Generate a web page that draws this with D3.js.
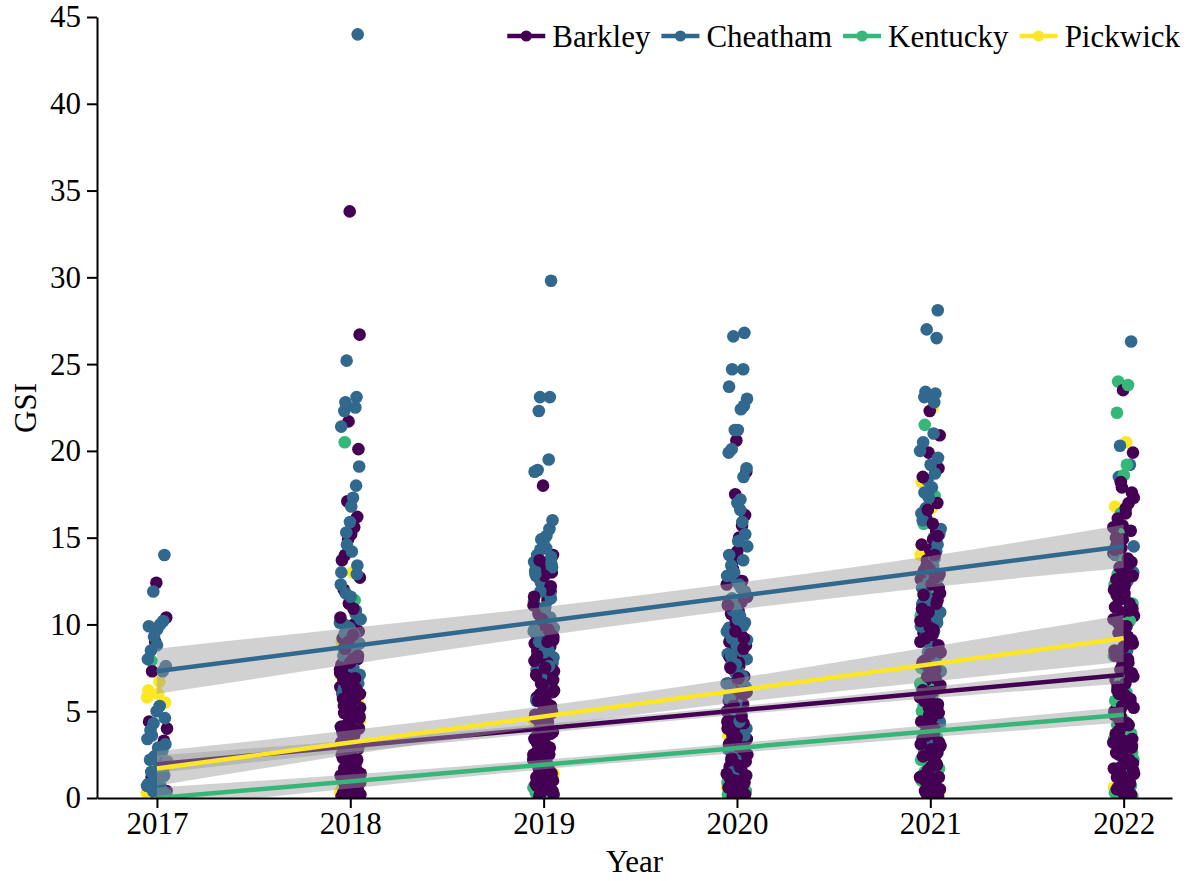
<!DOCTYPE html>
<html>
<head>
<meta charset="utf-8">
<script src="https://cdn.jsdelivr.net/npm/d3@7"></script>
<style>
  body { margin: 0; background: #fff; }
  text { font-family: "Liberation Serif", "Times New Roman", serif; fill: #000; }
</style>
</head>
<body>
<svg id="chart" width="1187" height="881"></svg>
<script>
const years = [2017, 2018, 2019, 2020, 2021, 2022];
const lakes = ["Barkley", "Cheatham", "Kentucky", "Pickwick"];
const lakeColors = ["#440154", "#31688E", "#35B779", "#FDE725"];
const yTicks = [0, 5, 10, 15, 20, 25, 30, 35, 40, 45];

// GSI values per lake, one inner array per year (2017..2022)
const barkleyGSI = [
  [12.4, 10.4, 9.0, 7.3, 4.4, 4.0, 3.3, 2.6, 2.0, 1.6, 1.2, 0.8, 0.4, 0.1, 1.4, 0.6],
  [33.8, 26.7, 21.7, 20.1, 17.1, 16.2, 15.6, 15.2, 14.9, 14.0, 13.7, 12.7, 12.0, 11.2, 10.0, 9.6, 9.2, 8.8, 8.4, 8.0, 7.7, 7.4, 7.0, 6.7, 6.4, 6.1, 5.8, 5.5, 5.2, 4.9, 4.6, 4.3, 4.0, 3.7, 3.4, 3.1, 2.8, 2.5, 2.2, 1.9, 1.6, 1.3, 1.0, 0.7, 0.4, 0.2, 3.6, 2.4, 1.5, 0.9, 0.3, 5.0, 6.2, 7.2,
   9.4, 8.6, 8.2, 7.8, 7.5, 6.9, 6.5, 6.0, 5.6, 5.3, 4.8, 4.4, 4.1, 3.8, 3.3, 3.0, 2.6, 2.3, 2.0, 1.7, 1.4, 1.1, 0.8, 0.5, 0.3, 0.1, 1.8, 2.9, 4.7, 5.9, 6.8, 8.1, 9.0, 10.4, 10.9, 0.6, 1.2, 2.1, 3.9,
   0.2, 0.5, 0.9, 1.3, 1.7, 2.2, 2.7, 3.2, 3.6, 4.2, 4.6, 5.1, 5.7, 6.3, 6.9, 7.4, 8.0, 8.7],
  [18.0, 14.0, 13.3, 13.0, 12.5, 11.9, 11.4, 10.8, 10.4, 9.9, 9.5, 9.1, 8.7, 8.3, 8.0, 7.6, 7.3, 7.0, 6.7, 6.4, 6.1, 5.8, 5.5, 5.2, 4.9, 4.6, 4.3, 4.0, 3.7, 3.4, 3.1, 2.8, 2.5, 2.2, 1.9, 1.6, 1.3, 1.0, 0.7, 0.4, 6.9, 5.0, 3.5, 2.0, 1.2, 12.2, 8.9,
   13.7, 12.8, 12.0, 11.1, 10.6, 10.1, 9.7, 9.3, 8.5, 8.1, 7.8, 7.4, 7.1, 6.6, 6.2, 5.9, 5.6, 5.3, 5.0, 4.7, 4.4, 4.1, 3.8, 3.5, 3.2, 2.9, 2.6, 2.3, 2.0, 1.7, 1.4, 1.1, 0.8, 0.5, 0.3, 0.2, 1.5, 2.7, 3.9, 6.5, 7.9, 9.0,
   0.1, 0.4, 0.8, 1.2, 1.6, 2.1, 2.5, 3.0, 3.4, 3.9, 4.3, 4.8, 5.4, 6.0, 6.8, 7.5, 8.2, 9.5, 10.3, 11.6],
  [20.6, 18.8, 17.5, 16.3, 15.7, 15.0, 13.8, 13.2, 12.8, 12.3, 11.9, 11.3, 10.8, 10.3, 9.7, 9.0, 8.4, 7.6, 7.0, 6.6, 6.2, 5.8, 5.4, 5.0, 4.6, 4.2, 3.8, 3.4, 3.0, 2.7, 2.4, 2.1, 1.8, 1.5, 1.2, 0.9, 0.6, 0.3, 10.1, 6.0, 4.4, 1.0,
   14.2, 12.5, 11.6, 10.6, 10.0, 9.4, 8.8, 8.1, 7.3, 6.8, 6.4, 5.6, 5.2, 4.8, 4.3, 4.0, 3.6, 3.2, 2.8, 2.5, 2.2, 1.9, 1.6, 1.3, 1.1, 0.8, 0.5, 0.2, 3.1, 5.9, 7.8, 9.2, 11.1,
   0.1, 0.4, 0.7, 1.0, 1.4, 1.8, 2.3, 2.9, 3.5, 4.1, 4.7, 5.3, 6.1, 6.9, 7.5, 8.6, 9.6],
  [22.3, 20.9, 19.9, 19.0, 17.6, 17.0, 16.1, 15.4, 14.9, 14.3, 13.7, 13.1, 12.6, 12.1, 11.5, 11.0, 10.4, 9.9, 9.5, 9.0, 8.6, 8.1, 7.6, 7.2, 6.8, 6.3, 5.8, 5.4, 5.0, 4.6, 4.2, 3.8, 3.4, 3.0, 2.6, 2.2, 1.8, 1.4, 1.0, 0.6, 0.3, 11.8, 7.9, 5.2, 2.9, 1.2,
   18.5, 16.6, 15.8, 15.1, 14.6, 14.0, 13.4, 12.9, 12.3, 11.7, 11.2, 10.7, 10.2, 9.7, 9.2, 8.8, 8.3, 7.8, 7.4, 7.0, 6.5, 6.1, 5.6, 5.2, 4.8, 4.4, 4.0, 3.6, 3.2, 2.8, 2.4, 2.0, 1.6, 1.2, 0.8, 0.4, 0.1, 9.8, 10.9, 12.7,
   0.2, 0.5, 0.9, 1.3, 1.9, 2.5, 3.1, 3.7, 4.3, 4.9, 5.5, 6.2, 6.9, 7.6, 8.4, 9.4, 10.5, 11.4, 13.2],
  [23.5, 19.9, 17.9, 17.6, 17.0, 16.4, 15.7, 15.2, 14.6, 14.1, 13.6, 13.0, 12.5, 11.9, 11.4, 11.0, 10.5, 10.1, 9.7, 9.3, 8.9, 8.4, 8.0, 7.6, 7.2, 6.8, 6.4, 5.9, 5.5, 5.0, 4.5, 4.1, 3.6, 3.2, 2.8, 2.4, 2.0, 1.6, 1.2, 0.8, 0.4, 12.0, 9.0, 6.0, 3.0, 1.0, 15.0, 10.8,
   18.2, 17.3, 16.7, 16.1, 15.4, 14.9, 14.3, 13.8, 13.3, 12.8, 12.2, 11.7, 11.2, 10.7, 10.3, 9.9, 9.5, 9.1, 8.7, 8.2, 7.8, 7.4, 7.0, 6.6, 6.2, 5.7, 5.3, 4.8, 4.3, 3.9, 3.4, 3.0, 2.6, 2.2, 1.8, 1.4, 1.0, 0.6, 0.2, 13.1, 11.0, 8.0, 5.0, 2.0,
   0.1, 0.5, 0.9, 1.3, 1.7, 2.1, 2.5, 2.9, 3.3, 3.7, 4.2, 4.7, 5.2, 5.8, 6.4, 7.1, 7.7, 8.5, 9.3, 10.0, 10.9, 11.8, 12.6, 13.5, 14.4, 15.6]
];
const cheathamGSI = [
  [14.0, 11.9, 10.2, 10.0, 9.7, 9.3, 8.5, 8.0, 7.6, 7.3, 5.3, 5.0, 4.3, 3.9, 3.4, 3.1, 2.7, 2.4, 2.1, 1.8, 1.5, 1.3, 1.0, 0.8, 0.6, 0.4, 0.2, 2.9, 2.2, 1.6, 1.1, 0.7, 0.3, 3.6, 4.6, 8.8, 9.9],
  [44.0, 25.2, 23.1, 22.8, 22.5, 22.3, 21.4, 19.1, 18.0, 17.3, 15.9, 14.6, 14.2, 12.9, 12.3, 11.8, 11.6, 10.6, 10.3, 10.0, 9.8, 9.4, 8.9, 8.2, 7.9, 7.5, 6.6, 6.0, 5.4, 4.8, 4.4, 4.1, 3.5, 2.9,
   10.8, 10.1, 9.5, 9.1, 8.5, 7.1, 6.3, 5.7, 5.1, 4.6, 3.8, 3.2, 2.6, 13.4, 13.0, 15.3, 16.8],
  [29.8, 23.1, 23.1, 22.3, 19.5, 18.9, 18.8, 16.0, 15.5, 15.1, 14.7, 14.3, 14.0, 13.6, 13.3, 12.8, 12.4, 12.0, 11.5, 11.1, 10.7, 10.3, 10.0, 9.6, 9.3, 8.9, 8.5, 8.1, 7.6, 7.2, 6.7, 6.2, 5.6,
   14.9, 14.4, 13.9, 13.1, 12.6, 12.2, 11.7, 11.3, 10.9, 10.5, 10.1, 9.8, 9.1, 8.7, 8.3, 7.8, 7.4, 6.9, 6.4,
   13.5, 12.9, 11.9, 11.0, 10.4, 9.7, 9.0, 8.4, 7.6],
  [26.8, 26.6, 24.7, 24.7, 23.7, 23.0, 22.6, 22.4, 21.2, 21.2, 20.1, 19.9, 19.0, 18.5, 17.2, 17.0, 15.9, 14.5, 13.4, 12.6, 12.1, 11.7, 11.4, 11.0, 10.5, 10.1, 9.8, 9.4, 9.0, 8.7, 8.3, 7.9, 7.4, 7.0, 6.6, 6.2, 5.5, 4.8, 4.0, 3.2, 2.3,
   16.6, 15.2, 14.0, 13.0, 12.3, 11.9, 11.2, 10.8, 10.3, 9.9, 9.6, 9.2, 8.8, 8.5, 8.0, 7.6, 7.2, 6.8, 6.4, 5.9, 5.1, 4.4, 3.6, 2.8, 1.5,
   14.8, 13.7, 12.8, 11.5, 10.7, 10.0, 9.1, 8.2, 7.7, 6.9, 6.3, 5.7],
  [28.1, 27.0, 26.5, 23.4, 23.3, 23.1, 22.8, 20.5, 20.0, 19.6, 18.7, 17.9, 17.3, 16.7, 16.0, 15.5, 14.6, 13.8, 13.0, 12.4, 11.8, 11.2, 10.7, 10.1, 9.6, 9.0, 8.4, 7.7, 6.4, 4.4, 1.9,
   21.0, 19.2, 18.3, 17.6, 16.4, 15.2, 14.2, 13.4, 12.7, 12.1, 11.5, 11.0, 10.4, 9.9, 9.3, 8.7, 8.1, 7.3, 5.6, 3.1],
  [26.3, 20.3, 19.2, 18.5, 15.5, 14.5, 13.5, 12.5, 11.6, 9.7, 0.5, 14.0, 13.0, 10.5, 8.5, 6.0, 2.5]
];
const kentuckyGSI = [
  [7.9, 1.1, 0.3],
  [20.5, 11.4, 8.6, 1.1, 0.5, 0.2],
  [2.8, 2.6, 0.7, 0.5, 0.3, 0.2, 0.1, 1.0, 0.4, 0.6, 0.3, 2.7, 0.2, 0.5, 0.4],
  [1.6, 1.2, 1.0, 0.8, 0.6, 0.5, 0.3, 0.2, 0.4, 0.7, 1.4, 0.1, 0.2, 0.5, 0.9, 0.3],
  [21.5, 17.4, 15.8, 15.0, 12.9, 11.6, 7.5, 6.9, 6.4, 5.7, 5.0, 4.2, 3.5, 3.0, 2.5, 2.0, 1.5, 1.0, 0.5, 0.2,
   6.0, 4.6, 3.8, 2.7, 2.2, 1.7, 1.2, 0.7, 0.3, 7.2, 5.3, 10.5, 0.4, 0.9, 1.4, 1.9, 3.3, 4.9, 6.6],
  [24.0, 23.8, 22.2, 19.2, 18.6, 16.4, 12.9, 12.3, 11.2, 7.1, 6.1, 5.4, 4.8, 4.2, 3.4, 2.6, 1.9, 1.3, 0.7, 0.3,
   15.2, 13.7, 10.2, 8.2, 5.8, 4.5, 3.0, 2.2, 1.6, 1.0, 0.5, 0.1, 0.4, 1.2, 2.4, 3.7, 5.6, 6.7, 9.4]
];
const pickwickGSI = [
  [6.7, 6.2, 6.0, 5.8, 5.5, 2.8, 2.2, 1.9, 0.9, 0.5, 0.3, 0.1, 0.2, 0.6, 1.2, 1.6, 0.4],
  [13.0, 9.0, 8.6, 7.1, 6.3, 4.5, 3.2, 2.7, 0.8, 0.3, 5.5, 1.5],
  [11.6, 9.7, 7.8, 4.5, 2.9, 1.4],
  [6.1, 3.6, 2.0, 0.6],
  [22.5, 18.2, 16.7, 14.0, 8.6, 6.3, 0.6, 0.3],
  [20.5, 16.8, 9.8, 0.6]
];

// fitted line value at 2017 and 2022
const barkleyFit = [1.95, 7.1];
const cheathamFit = [7.3, 14.5];
const kentuckyFit = [0.0, 4.8];
const pickwickFit = [1.7, 9.2];

// confidence band, lower and upper, one value per year
const barkleyLo = [1.45, 2.65, 3.75, 4.8, 5.75, 6.6];
const barkleyHi = [2.45, 3.3, 4.27, 5.28, 6.4, 7.6];
const cheathamLo = [6.0, 7.7, 9.35, 10.85, 12.15, 13.25];
const cheathamHi = [8.6, 9.8, 11.0, 12.4, 13.95, 15.75];
const kentuckyLo = [-0.6, 0.55, 1.65, 2.6, 3.5, 4.35];
const kentuckyHi = [0.6, 1.35, 2.2, 3.15, 4.2, 5.25];
const pickwickLo = [0.7, 2.5, 4.1, 5.5, 6.7, 7.85];
const pickwickHi = [2.7, 3.9, 5.3, 6.9, 8.7, 10.55];

const gsiByLake = [barkleyGSI, cheathamGSI, kentuckyGSI, pickwickGSI];
const fitByLake = [barkleyFit, cheathamFit, kentuckyFit, pickwickFit];
const loByLake = [barkleyLo, cheathamLo, kentuckyLo, pickwickLo];
const hiByLake = [barkleyHi, cheathamHi, kentuckyHi, pickwickHi];

const svg = d3.select("#chart");
const plotLeft = 97, plotRight = 1172, plotTop = 17, plotBottom = 798;

const x = d3.scaleLinear().domain([2016.69, 2022.25]).range([plotLeft, plotRight]);
const y = d3.scaleLinear().domain([0, 45]).range([plotBottom, plotTop]);
const color = d3.scaleOrdinal().domain(lakes).range(lakeColors);

svg.append("clipPath").attr("id", "panel")
  .append("rect").attr("x", plotLeft).attr("y", plotTop)
  .attr("width", plotRight - plotLeft).attr("height", plotBottom - plotTop);

// build points: interleave lakes within each year so colours mix like the original
const drawOrder = [3, 2, 1, 0];
const points = [];
years.forEach((yr, yi) => {
  const maxLen = d3.max(gsiByLake, g => g[yi].length);
  let j = 0;
  for (let k = 0; k < maxLen; k++) {
    drawOrder.forEach(li => {
      const v = gsiByLake[li][yi][k];
      if (v === undefined) return;
      // deterministic jitter spread (golden ratio sequence)
      const off = (((j + 1) * 0.618034) % 1 - 0.5) * 2 * 10.5;
      points.push({ year: yr, lake: lakes[li], gsi: v, off: off });
      j++;
    });
  }
});

const panel = svg.append("g").attr("clip-path", "url(#panel)");

panel.selectAll("circle.pt")
  .data(points)
  .enter().append("circle")
  .attr("class", "pt")
  .attr("cx", d => x(d.year) + d.off)
  .attr("cy", d => y(d.gsi))
  .attr("r", 6.3)
  .attr("fill", d => color(d.lake));

// smooth bands + lines, per lake in ggplot group order
lakes.forEach((lake, li) => {
  const band = years.map((yr, i) => ({ yr: yr, lo: loByLake[li][i], hi: hiByLake[li][i] }));
  panel.append("path")
    .datum(band)
    .attr("fill", "#999999")
    .attr("fill-opacity", 0.45)
    .attr("d", d3.area().curve(d3.curveMonotoneX)
      .x(d => x(d.yr)).y0(d => y(d.lo)).y1(d => y(d.hi)));

  panel.append("line")
    .attr("x1", x(years[0])).attr("y1", y(fitByLake[li][0]))
    .attr("x2", x(years[years.length - 1])).attr("y2", y(fitByLake[li][1]))
    .attr("stroke", color(lake))
    .attr("stroke-width", 4.5);
});

// axes
const yAxis = svg.append("g")
  .attr("transform", `translate(${plotLeft},0)`)
  .call(d3.axisLeft(y).tickValues(yTicks).tickSize(10).tickPadding(6).tickSizeOuter(0));
const xAxis = svg.append("g")
  .attr("transform", `translate(0,${plotBottom})`)
  .call(d3.axisBottom(x).tickValues(years).tickFormat(d3.format("d")).tickSize(10).tickPadding(4).tickSizeOuter(0));

[yAxis, xAxis].forEach(a => {
  a.selectAll("path.domain").attr("stroke", "#000").attr("stroke-width", 2);
  a.selectAll(".tick line").attr("stroke", "#000").attr("stroke-width", 2);
  a.selectAll(".tick text").attr("font-size", 31).attr("font-family", null).attr("fill", "#000");
});

svg.append("text")
  .attr("x", (plotLeft + plotRight) / 2)
  .attr("y", 872)
  .attr("text-anchor", "middle")
  .attr("font-size", 31)
  .text("Year");

svg.append("text")
  .attr("transform", `translate(36,408) rotate(-90)`)
  .attr("text-anchor", "middle")
  .attr("font-size", 31)
  .text("GSI");

// legend, right-aligned to end near the panel's right edge
const legend = svg.append("g");
let lx = 0;
lakes.forEach((lake, li) => {
  const g = legend.append("g").attr("transform", `translate(${lx},0)`);
  g.append("line").attr("x1", 0).attr("x2", 38).attr("y1", 0).attr("y2", 0)
    .attr("stroke", lakeColors[li]).attr("stroke-width", 4.5);
  g.append("circle").attr("cx", 19).attr("cy", 0).attr("r", 5.6).attr("fill", lakeColors[li]);
  const t = g.append("text").attr("x", 45).attr("y", 11).attr("font-size", 31).text(lake);
  lx += 45 + t.node().getComputedTextLength() + (li < lakes.length - 1 ? 11 : 0);
});
legend.attr("transform", `translate(${1180 - lx},36)`);
</script>
</body>
</html>
